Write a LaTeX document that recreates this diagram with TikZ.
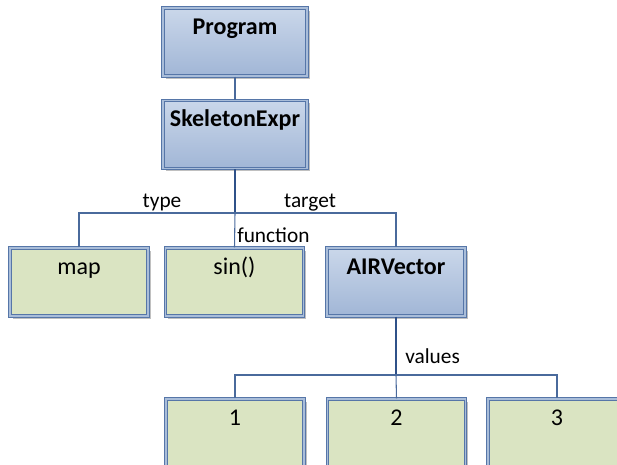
\documentclass[tikz,border=0pt]{standalone}
\usepackage{fontspec}
\setmainfont{Carlito}
\usetikzlibrary{shadows}
\definecolor{edgeblue}{HTML}{4A6A9C}
\definecolor{trunkblue}{HTML}{2F5189}
\definecolor{rimblue}{HTML}{5676A8}
\definecolor{rimgap}{HTML}{A9BDD9}
\definecolor{bluetop}{HTML}{CAD7EA}
\definecolor{bluebot}{HTML}{A1B6D6}
\definecolor{leaffill}{HTML}{DAE4C2}
\tikzset{
  box/.style={draw=rimblue, line width=0.8pt, double=rimgap, double distance=1.2pt,
    minimum width=103.5pt, minimum height=51pt, inner sep=0pt,
    drop shadow={shadow xshift=2.2pt, shadow yshift=-2.2pt, fill=black!45, opacity=0.55}},
  classbox/.style={box, top color=bluetop, bottom color=bluebot},
  widebox/.style={classbox, minimum width=108pt},
  leafbox/.style={box, fill=leaffill},
  boxtext/.style={font=\fontsize{18}{20}\selectfont, inner sep=0pt, anchor=base, yshift=-20.25pt},
  boldtext/.style={boxtext, font=\fontsize{18}{20}\selectfont\bfseries},
  link/.style={draw=edgeblue, line width=0.8pt},
  trunk/.style={draw=trunkblue, line width=1.3pt},
  edgelabel/.style={font=\fontsize{16}{18}\selectfont, inner sep=0pt, anchor=base}
}
\begin{document}
\begin{tikzpicture}[x=0.75pt, y=-0.75pt]
\useasboundingbox (0,0) rectangle (617,464);

% class nodes
\node[widebox, label={[boldtext]north:Program}] (prog) at (235,42) {};
\node[widebox, label={[boldtext]north:SkeletonExpr}] (skel) at (235,134.5) {};
\node[classbox, label={[boldtext]north:AIRVector}] (vec) at (396,282) {};

% leaf nodes
\node[leafbox, label={[boxtext]north:map}] (map) at (79,282) {};
\node[leafbox, label={[boxtext]north:sin()}] (sin) at (234.5,282) {};
\node[leafbox, label={[boxtext]north:1}] (one) at (235,433) {};
\node[leafbox, label={[boxtext]north:2}] (two) at (396.5,433) {};
\node[leafbox, label={[boxtext]north:3}] (three) at (557,433) {};

% bus junctions
\coordinate (busA) at (235,213);
\coordinate (busB) at (396,375);

% connectors
\draw[link] (prog.south) -- (skel.north);
\draw[trunk] (skel.south) -- (busA);
\draw[link] (busA) -- (sin.north);
\draw[link] (map.north) |- (busA) -| (vec.north);
\draw[trunk] (vec.south) -- (busB);
\draw[link] (busB) -- (two.north);
\draw[link] (one.north) |- (busB) -| (three.north);

% edge labels
\node[edgelabel] (ltype) at (162,207) {type};
\node[edgelabel] (ltarget) at (310,207) {target};
\node[edgelabel, anchor=base west] (lfunc) at (237,242) {function};
\node[edgelabel, anchor=base west] (lvals) at (405,363) {values};
\end{tikzpicture}
\end{document}
